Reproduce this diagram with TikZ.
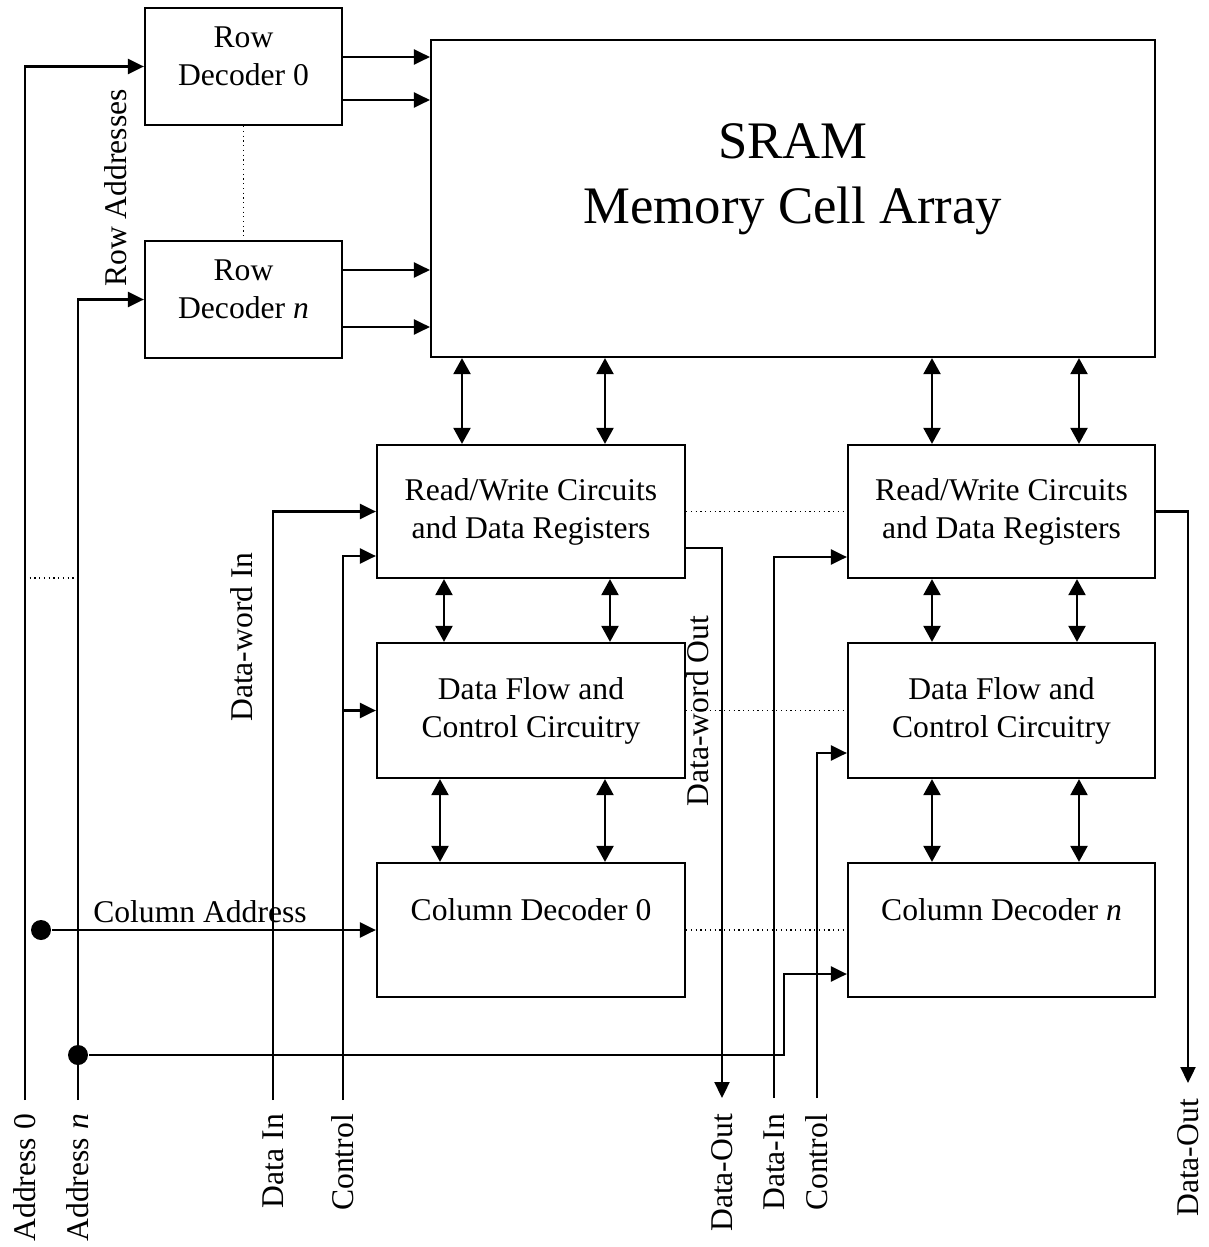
\documentclass[tikz,border=0pt]{standalone}
\usepackage{fontspec}
\setmainfont{Liberation Serif}
\usetikzlibrary{arrows.meta, calc}

\begin{document}
\begin{tikzpicture}[x=0.02cm, y=-0.02cm, font=\fontsize{18}{21.6}\selectfont, line width=1.3pt,
  blk/.style={draw, rectangle, align=center, inner sep=0pt},
  lift/.style={text depth=#1},
  arw/.style={-{Triangle[length=0.32cm, width=0.3cm]}},
  biarw/.style={{Triangle[length=0.32cm, width=0.34cm]}-{Triangle[length=0.32cm, width=0.34cm]}},
  dots/.style={dotted, line width=0.7pt},
  junct/.style={circle, fill, inner sep=0pt, minimum size=0.4cm},
  pin/.style={rotate=90, anchor=east, inner sep=0pt}]
\useasboundingbox (0,0) rectangle (1208,1247);

% row decoders and array
\node[blk, minimum width=3.94cm, minimum height=2.34cm, lift=0.4cm] (rd0) at (243.5,66.5) {Row\\Decoder 0};
\node[blk, minimum width=3.94cm, minimum height=2.34cm, lift=0.4cm] (rdn) at (243.5,299.5) {Row\\Decoder \textit{n}};
\node[blk, minimum width=14.48cm, minimum height=6.34cm, lift=1.0cm, font=\fontsize{30}{37}\selectfont] (sram) at (793,198.5) {SRAM\\Memory Cell Array};

% left column
\node[blk, minimum width=6.16cm, minimum height=2.66cm] (rw0) at (531,511.5) {Read/Write Circuits\\and Data Registers};
\node[blk, minimum width=6.16cm, minimum height=2.7cm] (df0) at (531,710.5) {Data Flow and\\Control Circuitry};
\node[blk, minimum width=6.16cm, minimum height=2.68cm, lift=0.8cm] (cd0) at (531,930) {Column Decoder 0};

% right column
\node[blk, minimum width=6.14cm, minimum height=2.66cm] (rw1) at (1001.5,511.5) {Read/Write Circuits\\and Data Registers};
\node[blk, minimum width=6.14cm, minimum height=2.7cm] (df1) at (1001.5,710.5) {Data Flow and\\Control Circuitry};
\node[blk, minimum width=6.14cm, minimum height=2.68cm, lift=0.8cm] (cd1) at (1001.5,930) {Column Decoder \textit{n}};

% pins
\coordinate (addr0) at (25,1100);
\coordinate (addrn) at (78,1100);
\coordinate (datain0) at (273,1100);
\coordinate (ctrl0) at (343,1100);
\coordinate (dataout0) at (722,1098);
\coordinate (datain1) at (774,1098);
\coordinate (ctrl1) at (817,1098);
\coordinate (dataout1) at (1188,1083);
\node[pin] (laddr0) at (25,1113) {Address 0};
\node[pin] (laddrn) at (78,1113) {Address \textit{n}};
\node[pin] (ldatain0) at (273,1113) {Data In};
\node[pin] (lctrl0) at (343,1113) {Control};
\node[pin] (ldataout0) at (722,1113) {Data-Out};
\node[pin] (ldatain1) at (774,1113) {Data-In};
\node[pin] (lctrl1) at (817,1113) {Control};
\node[pin] (ldataout1) at (1188,1098) {Data-Out};

% labels
\node[rotate=90] (lrow) at (116,188) {Row Addresses};
\node[rotate=90] (ldwin) at (242,637) {Data-word In};
\node[rotate=90] (ldwout) at (698,711) {Data-word Out};
\node (lcol) at (200,912) {Column Address};

% row addressing
\draw[arw] (addr0) |- (rd0.west);
\draw[arw] (addrn) |- (rdn.west);
\draw[dots] (addr0 |- 0,578) -- (addrn |- 0,578);
\draw[dots] (rd0.south) -- (rdn.north);
\draw[arw] (rd0.east |- 0,57) -- (sram.west |- 0,57);
\draw[arw] (rd0.east |- 0,100) -- (sram.west |- 0,100);
\draw[arw] (rdn.east |- 0,270) -- (sram.west |- 0,270);
\draw[arw] (rdn.east |- 0,327) -- (sram.west |- 0,327);

% data paths
\foreach \xx in {462,605,932,1079} \draw[biarw] (sram.south -| \xx,0) -- (rw0.north -| \xx,0);
\foreach \xx in {444,610} \draw[biarw] (rw0.south -| \xx,0) -- (df0.north -| \xx,0);
\foreach \xx in {932,1077} \draw[biarw] (rw1.south -| \xx,0) -- (df1.north -| \xx,0);
\foreach \xx in {440,605} \draw[biarw] (df0.south -| \xx,0) -- (cd0.north -| \xx,0);
\foreach \xx in {932,1079} \draw[biarw] (df1.south -| \xx,0) -- (cd1.north -| \xx,0);
\draw[dots] (rw0.east) -- (rw1.west);
\draw[dots] (df0.east) -- (df1.west);
\draw[dots] (cd0.east) -- (cd1.west);

% inputs and outputs
\draw[arw] (datain0) |- (rw0.west);
\draw[arw] (ctrl0) |- (rw0.west |- 0,556);
\draw[arw] (ctrl0 |- df0.west) -- (df0.west);
\draw[arw] (rw0.east |- 0,548) -| (dataout0);
\draw[arw] (datain1) |- (rw1.west |- 0,557);
\draw[arw] (ctrl1) |- (df1.west |- 0,753);
\draw[arw] (rw1.east) -| (dataout1);

% column addressing
\node[junct] (coldot) at (41,930) {};
\node[junct] (addrdot) at (78,1055) {};
\draw[arw] (coldot) -- (cd0.west);
\draw[arw] (addrdot) -| (784,974) -- (cd1.west |- 0,974);
\end{tikzpicture}
\end{document}
